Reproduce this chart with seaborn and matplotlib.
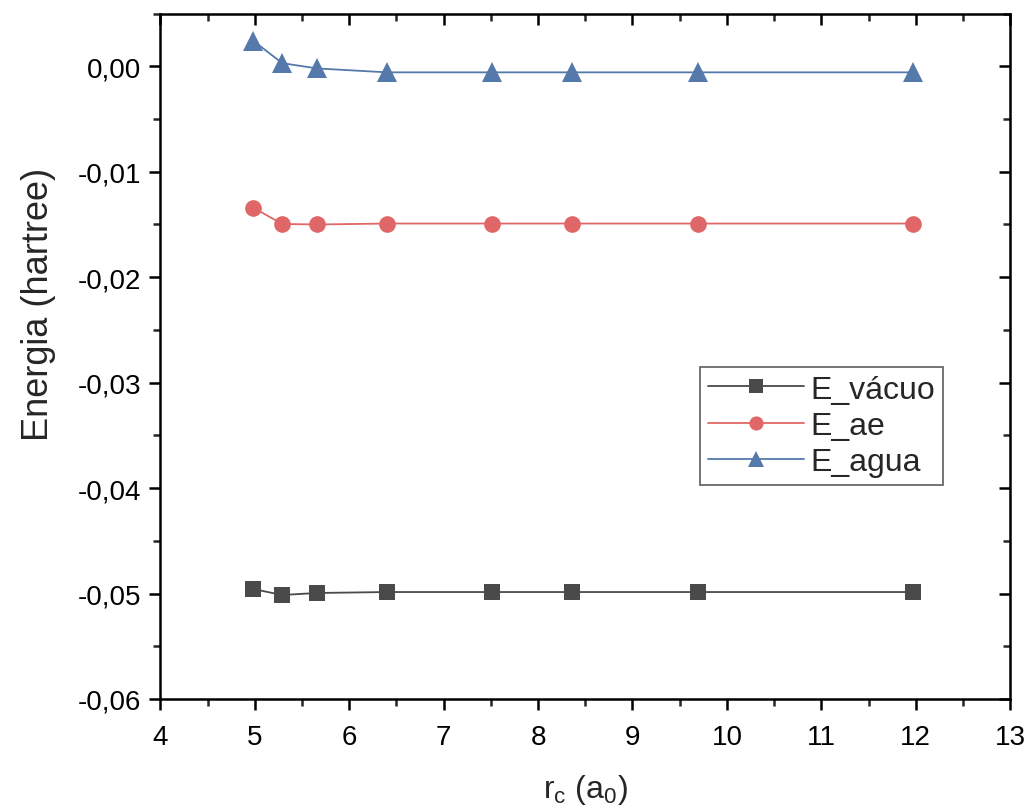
import numpy as np
import pandas as pd
import matplotlib
matplotlib.use("Agg")
import matplotlib.pyplot as plt
import seaborn as sns
from matplotlib.ticker import MultipleLocator, FuncFormatter

sns.set_theme(style="ticks")
plt.rcParams['font.family'] = ['Liberation Sans', 'DejaVu Sans']

# data
rc = [4.98, 5.29, 5.66, 6.40, 7.51, 8.36, 9.69, 11.97]
e_vacuo = [-0.04957, -0.05014, -0.04995, -0.04986, -0.04986, -0.04986, -0.04986, -0.04986]
e_ae = [-0.01339, -0.01495, -0.01500, -0.01491, -0.01491, -0.01491, -0.01491, -0.01491]
e_agua = [0.00245, 0.00030, -0.00020, -0.00057, -0.00057, -0.00057, -0.00057, -0.00057]
labels = ["E_vácuo", "E_ae", "E_agua"]

df = pd.DataFrame({
    "rc": rc * 3,
    "E": e_vacuo + e_ae + e_agua,
    "serie": [labels[0]] * 8 + [labels[1]] * 8 + [labels[2]] * 8,
})

cores = {"E_vácuo": "#4a4a4a", "E_ae": "#e06767", "E_agua": "#5479aa"}
marcadores = {"E_vácuo": "s", "E_ae": "o", "E_agua": "^"}

fig = plt.figure(figsize=(10.35, 8.12), dpi=100)
ax = fig.add_axes([0.155, 0.138, 0.821, 0.844])

sns.lineplot(data=df, x="rc", y="E", hue="serie", style="serie",
             palette=cores, markers=marcadores, dashes=False,
             markersize=12, markeredgewidth=0, linewidth=1.3, ax=ax)
# triangles look a bit bigger in the original
for ln in ax.lines:
    if ln.get_marker() == "^":
        ln.set_markersize(14)

ax.set_xlim(4, 13)
ax.set_ylim(-0.06, 0.005)
ax.xaxis.set_major_locator(MultipleLocator(1))
ax.xaxis.set_minor_locator(MultipleLocator(0.5))
ax.yaxis.set_major_locator(MultipleLocator(0.01))
ax.yaxis.set_minor_locator(MultipleLocator(0.005))
ax.yaxis.set_major_formatter(FuncFormatter(lambda v, p: f"{v:.2f}".replace(".", ",").replace("-0,00", "0,00")))

for s in ax.spines.values():
    s.set_visible(True)
    s.set_linewidth(1.8)
    s.set_color("black")

ax.tick_params(which="major", direction="out", length=8, width=1.8, labelsize=20, colors="black")
ax.tick_params(which="minor", direction="out", length=5, width=1.8)
ax.tick_params(axis="x", which="major", pad=10)
ax.tick_params(axis="y", which="major", pad=6)
ax.tick_params(which="both", top=True, right=True)
# ticks on top/right point inward, as in the original
for t in ax.xaxis.get_ticklines(minor=False)[1::2] + ax.xaxis.get_ticklines(minor=True)[1::2]:
    t.set_marker(matplotlib.lines.TICKDOWN)
for t in ax.yaxis.get_ticklines(minor=False)[1::2] + ax.yaxis.get_ticklines(minor=True)[1::2]:
    t.set_marker(matplotlib.lines.TICKLEFT)

ax.set_xlabel("r$_\\mathregular{c}$ (a$_\\mathregular{0}$)", fontsize=23, labelpad=16)
ax.set_ylabel("Energia (hartree)", fontsize=26)
ax.yaxis.set_label_coords(-0.123, 0.577)

leg = ax.legend(loc="upper left", bbox_to_anchor=(0.635, 0.485), fontsize=23,
                frameon=True, fancybox=False, edgecolor="#333333",
                handlelength=3.0, handletextpad=0.2, borderpad=0.25, labelspacing=0.2,
                borderaxespad=0, markerscale=0.85)
leg.get_frame().set_linewidth(1.2)

fig.savefig("out.png", dpi=100)
